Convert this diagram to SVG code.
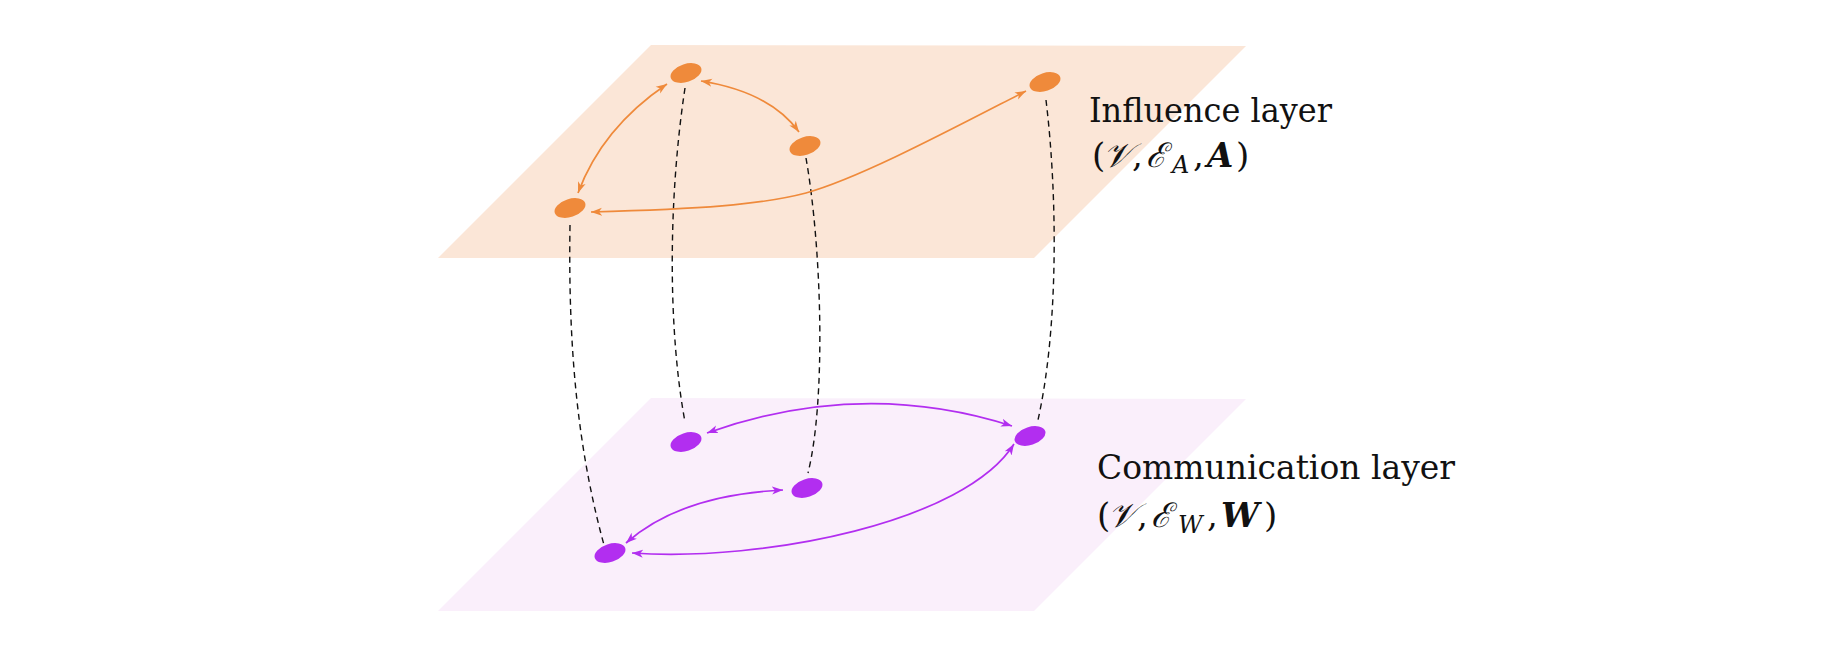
<svg xmlns="http://www.w3.org/2000/svg" width="1846" height="652" viewBox="0 0 1846 652">
<style>
.plane-a{fill:#FBE6D7}
.plane-w{fill:#FAEFFB}
.na{fill:#EF8A3B}
.nw{fill:#B22EF0}
.ea{fill:none;stroke:#EF8A3B;stroke-width:1.7}
.ew{fill:none;stroke:#B22EF0;stroke-width:1.7}
.dash{fill:none;stroke:#111;stroke-width:1.4;stroke-dasharray:6 4.5}
.lbl{font-family:'DejaVu Serif','Liberation Serif',serif;font-size:34px;fill:#111}
</style>
<defs>
<marker id="ma" viewBox="-11 -5 12 10" refX="0" refY="0" markerWidth="12" markerHeight="10" markerUnits="userSpaceOnUse" orient="auto-start-reverse">
<path d="M0,0 L-11,-4 L-8,0 L-11,4 z" fill="#EF8A3B"/>
</marker>
<marker id="mw" viewBox="-11 -5 12 10" refX="0" refY="0" markerWidth="12" markerHeight="10" markerUnits="userSpaceOnUse" orient="auto-start-reverse">
<path d="M0,0 L-11,-4 L-8,0 L-11,4 z" fill="#B22EF0"/>
</marker>
</defs>
<g id="layer-influence">
<polygon class="plane-a" points="651,45 1246,46 1034,258 438,258"/>
</g>
<g id="layer-communication">
<polygon class="plane-w" points="651,398 1246,399 1034,611 438,611"/>
</g>
<g id="connectors">
<path class="dash" d="M685,88 C668,200 668,330 685,422"/>
<path class="dash" d="M806,158 C822,250 826,400 808,473"/>
<path class="dash" d="M570,225 C568,350 578,450 604,545"/>
<path class="dash" d="M1046,100 C1058,200 1058,330 1038,420"/>
<path class="ea" d="M667,84 Q602,128 578,193" marker-start="url(#ma)" marker-end="url(#ma)"/>
<path class="ea" d="M701,81 Q770,92 799,132" marker-start="url(#ma)" marker-end="url(#ma)"/>
<path class="ea" d="M591,212 C700,209 760,205 806,193 C860,178 950,130 1026,91" marker-start="url(#ma)" marker-end="url(#ma)"/>
<path class="ew" d="M707,433 Q862,378 1012,426" marker-start="url(#mw)" marker-end="url(#mw)"/>
<path class="ew" d="M783,490 Q680,495 626,543" marker-start="url(#mw)" marker-end="url(#mw)"/>
<path class="ew" d="M632,553 C765,562 965,522 1014,444" marker-start="url(#mw)" marker-end="url(#mw)"/>
</g>
<g id="node-a1"><ellipse class="na" cx="686" cy="73" rx="16" ry="9" transform="rotate(-18 686 73)"/></g>
<g id="node-a2"><ellipse class="na" cx="805" cy="146" rx="16" ry="9" transform="rotate(-18 805 146)"/></g>
<g id="node-a3"><ellipse class="na" cx="570" cy="208" rx="16" ry="9" transform="rotate(-18 570 208)"/></g>
<g id="node-a4"><ellipse class="na" cx="1045" cy="82" rx="16" ry="9" transform="rotate(-18 1045 82)"/></g>
<g id="node-w1"><ellipse class="nw" cx="686" cy="442" rx="16" ry="9" transform="rotate(-18 686 442)"/></g>
<g id="node-w2"><ellipse class="nw" cx="807" cy="488" rx="16" ry="9" transform="rotate(-18 807 488)"/></g>
<g id="node-w3"><ellipse class="nw" cx="610" cy="553" rx="16" ry="9" transform="rotate(-18 610 553)"/></g>
<g id="node-w4"><ellipse class="nw" cx="1030" cy="436" rx="16" ry="9" transform="rotate(-18 1030 436)"/></g>
<g id="label-influence" class="lbl">
<text class="lbl" x="1089" y="122" textLength="243" lengthAdjust="spacingAndGlyphs">Influence layer</text>
<text class="lbl" y="167"><tspan x="1092">(</tspan><tspan x="1103" font-style="italic">𝒱</tspan><tspan x="1132">,</tspan><tspan x="1146" font-style="italic">ℰ</tspan><tspan x="1172" y="173" font-size="24" font-style="italic">A</tspan><tspan x="1193" y="167">,</tspan><tspan x="1207" font-weight="bold" font-style="italic">A</tspan><tspan x="1236">)</tspan></text>
</g>
<g id="label-communication" class="lbl">
<text class="lbl" x="1097" y="479" textLength="358" lengthAdjust="spacingAndGlyphs">Communication layer</text>
<text class="lbl" y="527"><tspan x="1097">(</tspan><tspan x="1108" font-style="italic">𝒱</tspan><tspan x="1137">,</tspan><tspan x="1151" font-style="italic">ℰ</tspan><tspan x="1178" y="533" font-size="24" font-style="italic">W</tspan><tspan x="1207" y="527">,</tspan><tspan x="1221" font-weight="bold" font-style="italic">W</tspan><tspan x="1264">)</tspan></text>
</g>
</svg>
